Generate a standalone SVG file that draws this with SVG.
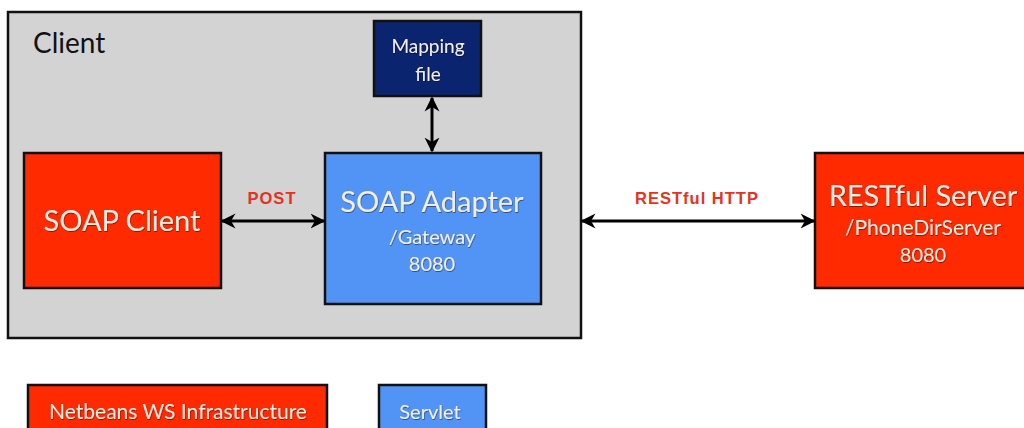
<svg xmlns="http://www.w3.org/2000/svg" width="1024" height="428" viewBox="0 0 1024 428">
<style>
.box{stroke:#111;stroke-width:2.5}
.red{fill:#FF2A00}
.blue{fill:#5294F5}
.navy{fill:#0B2470}
.t{font-family:Lato,"Open Sans","Liberation Sans",sans-serif;fill:#F4EEE6;text-anchor:middle}
.lbl{font-family:"Liberation Sans",Arial,sans-serif;font-weight:bold;fill:#E03424;text-anchor:middle;font-size:16.5px;letter-spacing:1px}
.conn{stroke:#000;stroke-width:3;fill:none}
</style>
<defs>
<marker id="ah" viewBox="0 0 10 10" refX="9" refY="5" markerWidth="5" markerHeight="5.5" orient="auto-start-reverse" markerUnits="strokeWidth">
<path d="M0,0 L10,5 L0,10 L3,5 Z" fill="#000"/>
</marker>
<filter id="sh" x="-10%" y="-10%" width="120%" height="130%">
<feDropShadow dx="0.6" dy="1" stdDeviation="0.6" flood-color="#000" flood-opacity="0.45"/>
</filter>
</defs>
<rect width="1024" height="428" fill="#fff"/>
<g id="client">
<rect class="box" x="8" y="12" width="573" height="326" fill="#D3D3D3"/>
<text x="33" y="53" font-family="Lato,'Open Sans','Liberation Sans',sans-serif" font-size="28" fill="#111">Client</text>
</g>
<g id="mapping-file">
<rect class="box navy" x="374" y="21" width="107" height="75"/>
<text class="t" filter="url(#sh)" font-size="19" x="428" y="53">Mapping</text>
<text class="t" filter="url(#sh)" font-size="19" x="428" y="81">file</text>
</g>
<g id="soap-client">
<rect class="box red" x="24" y="153" width="197" height="135"/>
<text class="t" filter="url(#sh)" font-size="29" x="122" y="231">SOAP Client</text>
</g>
<g id="soap-adapter">
<rect class="box blue" x="325" y="153" width="216" height="151"/>
<text class="t" filter="url(#sh)" font-size="29" x="432" y="212">SOAP Adapter</text>
<text class="t" filter="url(#sh)" font-size="20" x="432" y="244">/Gateway</text>
<text class="t" filter="url(#sh)" font-size="20" x="432" y="271">8080</text>
</g>
<g id="restful-server">
<rect class="box red" x="815" y="153" width="215" height="135"/>
<text class="t" filter="url(#sh)" font-size="29" x="923" y="206">RESTful Server</text>
<text class="t" filter="url(#sh)" font-size="21" x="923" y="235">/PhoneDirServer</text>
<text class="t" filter="url(#sh)" font-size="20" x="923" y="262">8080</text>
</g>
<g id="legend-netbeans">
<rect class="box red" x="28" y="385" width="299" height="50"/>
<text class="t" filter="url(#sh)" font-size="21" x="178" y="419">Netbeans WS Infrastructure</text>
</g>
<g id="legend-servlet">
<rect class="box blue" x="379" y="385" width="107" height="50"/>
<text class="t" filter="url(#sh)" font-size="20" x="430" y="419">Servlet</text>
</g>
<g id="connectors">
<line class="conn" x1="222" y1="221" x2="324" y2="221" marker-start="url(#ah)" marker-end="url(#ah)"/>
<line class="conn" x1="432" y1="98" x2="432" y2="151" marker-start="url(#ah)" marker-end="url(#ah)"/>
<line class="conn" x1="582" y1="221" x2="814" y2="221" marker-start="url(#ah)" marker-end="url(#ah)"/>
<text class="lbl" x="272" y="204">POST</text>
<text class="lbl" x="697" y="204">RESTful HTTP</text>
</g>
</svg>
